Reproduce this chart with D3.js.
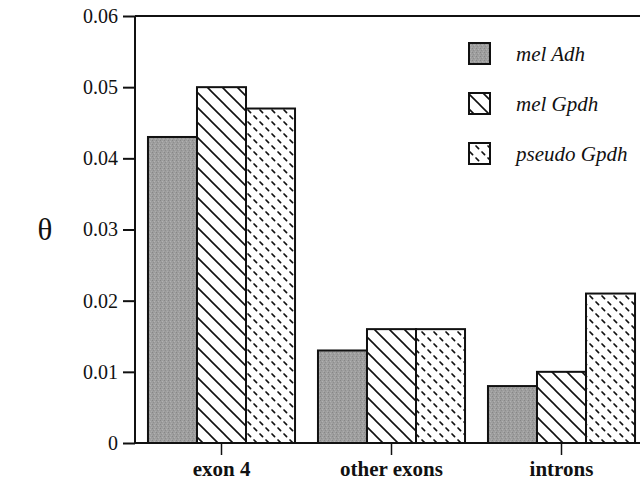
<!DOCTYPE html>
<html>
<head>
<meta charset="utf-8">
<script src="https://cdn.jsdelivr.net/npm/d3@7"></script>
<style>
  html, body { margin: 0; padding: 0; background: #fff; }
  svg { display: block; }
  text { font-family: "Liberation Serif", "Times New Roman", serif; fill: #111; }
</style>
</head>
<body>
<svg id="chart" width="640" height="482"></svg>
<script>
// Nucleotide diversity (theta) by gene region
const regions = ["exon 4", "other exons", "introns"];
const seriesNames = ["mel Adh", "mel Gpdh", "pseudo Gpdh"];
const melAdh = [0.043, 0.013, 0.008];
const melGpdh = [0.050, 0.016, 0.010];
const pseudoGpdh = [0.047, 0.016, 0.021];
const yTicks = [0, 0.01, 0.02, 0.03, 0.04, 0.05, 0.06];
const yTickLabels = ["0", "0.01", "0.02", "0.03", "0.04", "0.05", "0.06"];

const series = [melAdh, melGpdh, pseudoGpdh];
const fills = ["url(#grain)", "url(#hatch)", "url(#dash)"];

const svg = d3.select("#chart");
const defs = svg.append("defs");

// Grey speckled fill
const grain = defs.append("pattern").attr("id", "grain")
  .attr("patternUnits", "userSpaceOnUse").attr("width", 4).attr("height", 4);
grain.append("rect").attr("width", 4).attr("height", 4).attr("fill", "#9e9e9e");
grain.append("rect").attr("x", 0).attr("y", 0).attr("width", 1).attr("height", 1).attr("fill", "#868686");
grain.append("rect").attr("x", 2).attr("y", 1).attr("width", 1).attr("height", 1).attr("fill", "#b2b2b2");
grain.append("rect").attr("x", 1).attr("y", 2).attr("width", 1).attr("height", 1).attr("fill", "#8e8e8e");
grain.append("rect").attr("x", 3).attr("y", 3).attr("width", 1).attr("height", 1).attr("fill", "#acacac");

// Diagonal "\" hatching
const hatch = defs.append("pattern").attr("id", "hatch")
  .attr("patternUnits", "userSpaceOnUse").attr("width", 15).attr("height", 15);
hatch.append("rect").attr("width", 15).attr("height", 15).attr("fill", "#fff");
hatch.append("path").attr("d", "M-4,-4L19,19M-4,11L4,19M11,-4L19,4")
  .attr("stroke", "#111").attr("stroke-width", 1.6);

// Short staggered dashes
const dash = defs.append("pattern").attr("id", "dash")
  .attr("patternUnits", "userSpaceOnUse").attr("width", 12).attr("height", 12);
dash.append("rect").attr("width", 12).attr("height", 12).attr("fill", "#fff");
dash.append("path").attr("d", "M2,8L4.6,10.6M8,2L10.6,4.6")
  .attr("stroke", "#111").attr("stroke-width", 1.7).attr("stroke-linecap", "round");

const x0 = 135, yTop = 16, yBottom = 443;

const x = d3.scaleBand().domain(regions).range([136.5, 646.5]).paddingInner(0.135).paddingOuter(0.0675);
const xs = d3.scaleBand().domain(seriesNames).range([0, x.bandwidth()]);
const y = d3.scaleLinear().domain([0, 0.06]).range([yBottom, yTop]);

// Bars
regions.forEach((r, i) => {
  series.forEach((s, j) => {
    svg.append("rect")
      .attr("x", x(r) + xs(seriesNames[j]))
      .attr("y", y(s[i]))
      .attr("width", xs.bandwidth())
      .attr("height", y(0) - y(s[i]))
      .attr("fill", fills[j])
      .attr("stroke", "#111")
      .attr("stroke-width", 2);
  });
});

// Top frame line
svg.append("line").attr("x1", x0).attr("x2", 640).attr("y1", yTop).attr("y2", yTop)
  .attr("stroke", "#111").attr("stroke-width", 2);

// Y axis
const yAxis = d3.axisLeft(y).tickValues(yTicks).tickFormat((d, i) => yTickLabels[i])
  .tickSize(12).tickPadding(5);
const gy = svg.append("g").attr("transform", `translate(${x0},0)`).call(yAxis);
gy.select(".domain").attr("stroke", "#111").attr("stroke-width", 2).attr("d", `M0,${yTop}V${yBottom}`);
gy.selectAll(".tick line").attr("stroke", "#111").attr("stroke-width", 2);
gy.selectAll(".tick text").attr("font-size", 20).attr("font-family", "Liberation Serif, serif").attr("fill", "#111");

// X axis
const xAxis = d3.axisBottom(x).tickSize(12).tickPadding(6);
const gx = svg.append("g").attr("transform", `translate(0,${yBottom})`).call(xAxis);
gx.select(".domain").attr("stroke", "#111").attr("stroke-width", 2).attr("d", `M${x0},0H640`);
gx.selectAll(".tick line").attr("stroke", "#111").attr("stroke-width", 1.5);
gx.selectAll(".tick text").attr("font-size", 21).attr("font-weight", "bold")
  .attr("font-family", "Liberation Serif, serif").attr("fill", "#111");

// Y label
svg.append("text").attr("x", 45).attr("y", 240).attr("text-anchor", "middle")
  .attr("font-size", 31).text("θ");

// Legend
const legend = svg.append("g");
seriesNames.forEach((name, j) => {
  const ly = 43 + j * 50;
  legend.append("rect").attr("x", 469).attr("y", ly).attr("width", 21).attr("height", 21)
    .attr("fill", fills[j]).attr("stroke", "#111").attr("stroke-width", 2);
  legend.append("text").attr("x", 516).attr("y", ly + 18)
    .attr("font-size", 21).attr("font-style", "italic").text(name);
});
</script>
</body>
</html>
